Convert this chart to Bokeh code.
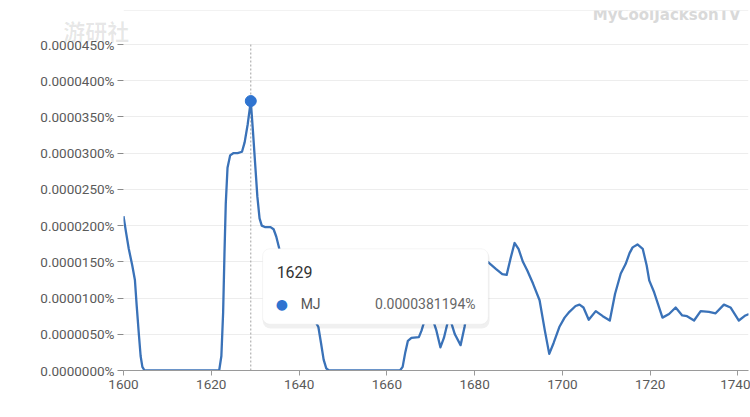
from bokeh.plotting import figure
from bokeh.models import Range1d, FixedTicker, BoxAnnotation, Label, Span
from bokeh.embed import file_html
from bokeh.resources import INLINE

# ---- data: values in units of 0.0000001 % ----
years = [1600, 1600.6, 1601.2, 1602, 1602.6, 1603, 1603.5, 1603.9, 1604.3, 1604.8,
         1621.8, 1622.3, 1622.7, 1623.0, 1623.3, 1623.7, 1624.3, 1625, 1626, 1627, 1627.6,
         1628.3, 1629, 1629.5, 1630, 1630.5, 1631, 1631.5, 1632.2, 1633.5, 1634.2, 1634.8,
         1635.5, 1636.5, 1638, 1640, 1642, 1643.5, 1644.4, 1645, 1645.6, 1646.2, 1646.8,
         1663, 1663.6, 1664.2, 1664.8, 1665.6, 1667.3, 1667.9, 1668.6, 1669.5, 1670.5,
         1671.3, 1672.2, 1673, 1674.2, 1675.5, 1676.8, 1677.7, 1678.5, 1680, 1681.5, 1683,
         1684.9, 1686.3, 1687.3, 1688.2, 1689.1, 1690, 1691, 1692, 1693.3, 1694.8, 1696,
         1697, 1698, 1699.3, 1700.5, 1701.6, 1703, 1703.9, 1704.8, 1706, 1707.6, 1709.2,
         1710.8, 1712, 1713.3, 1714.4, 1715.3, 1716, 1717.1, 1718.3, 1719.2, 1719.8, 1720.9,
         1722.8, 1724.3, 1725.8, 1727.3, 1728.4, 1730, 1731.5, 1733.4, 1734.9, 1736.8,
         1738.3, 1740.2, 1741.7, 1742.5]
mj_e7 = [21.3, 19.0, 16.8, 14.5, 12.5, 9.0, 5.0, 2.0, 0.5, 0.0,
         0.0, 2.0, 8.0, 16.0, 23.0, 28.0, 29.7, 30.0, 30.0, 30.2, 31.5,
         34.0, 37.2, 33.0, 28.5, 24.0, 21.0, 20.0, 19.8, 19.8, 19.5, 18.5,
         16.8, 15.0, 13.0, 10.5, 8.5, 7.0, 6.0, 3.8, 1.5, 0.3, 0.0,
         0.0, 0.5, 2.5, 4.1, 4.5, 4.6, 5.5, 6.9, 8.5, 7.0,
         5.5, 3.2, 4.5, 7.5, 5.0, 3.5, 6.0, 9.0, 12.5, 14.5, 15.0,
         14.0, 13.3, 13.2, 15.5, 17.6, 16.8, 15.0, 13.8, 12.0, 9.7, 5.5,
         2.3, 3.8, 6.0, 7.3, 8.1, 8.9, 9.1, 8.7, 7.0, 8.2, 7.5,
         6.9, 10.6, 13.4, 14.7, 16.2, 17.0, 17.4, 16.8, 14.5, 12.4, 10.8,
         7.3, 7.8, 8.7, 7.6, 7.5, 6.9, 8.2, 8.1, 7.9, 9.1,
         8.7, 6.9, 7.6, 7.8]
y_ticks = [0, 5, 10, 15, 20, 25, 30, 35, 40, 45]
y_tick_labels = ["0.0000000%", "0.0000050%", "0.0000100%", "0.0000150%", "0.0000200%",
                 "0.0000250%", "0.0000300%", "0.0000350%", "0.0000400%", "0.0000450%"]
x_ticks = [1600, 1620, 1640, 1660, 1680, 1700, 1720, 1740]
hover_year = 1629
hover_val = 37.2
hover_text = "0.0000381194%"
series_name = "MJ"
logo_text = "游研社"
channel_text = "MyCoolJacksonTV"

LINE_BLUE = "#3a72b8"
FONT = "Roboto"
Y_TOP = 49.7

p = figure(width=750, height=417, output_backend="svg", toolbar_location=None,
           x_range=Range1d(1600, 1742.4), y_range=Range1d(0, Y_TOP),
           min_border_left=123, min_border_right=2, min_border_top=10, min_border_bottom=47)
p.outline_line_color = None
p.background_fill_color = "white"
p.border_fill_color = "white"

# axes
p.yaxis.ticker = FixedTicker(ticks=y_ticks)
p.yaxis.major_label_overrides = dict(zip(y_ticks, y_tick_labels))
p.yaxis.axis_line_color = None
p.yaxis.major_tick_line_color = "#8a8a8a"
p.yaxis.major_tick_out = 6
p.yaxis.major_tick_in = 0
p.yaxis.minor_tick_line_color = None
p.yaxis.major_label_standoff = 3
p.yaxis.major_label_text_font = FONT
p.yaxis.major_label_text_font_size = "13.5px"
p.yaxis.major_label_text_color = "#5a5a5a"
# faint logo watermark, carried by the y axis label so it may sit left of the frame
# (leading empty line pushes the visible line down below the frame top)
p.yaxis.axis_label = "\n" + logo_text
p.yaxis.axis_label_orientation = "horizontal"
p.yaxis.axis_label_align = "end"
p.yaxis.axis_label_standoff = -92
p.yaxis.axis_label_text_font = "Noto Sans CJK SC"
p.yaxis.axis_label_text_font_size = "22px"
p.yaxis.axis_label_text_font_style = "bold"
p.yaxis.axis_label_text_color = "#000000"
p.yaxis.axis_label_text_alpha = 0.09

p.xaxis.ticker = FixedTicker(ticks=x_ticks)
p.xaxis.axis_line_color = "#9a9a9a"
p.xaxis.axis_line_width = 1.2
p.xaxis.major_tick_line_color = "#9a9a9a"
p.xaxis.major_tick_out = 5
p.xaxis.major_tick_in = 0
p.xaxis.minor_tick_line_color = None
p.xaxis.major_label_standoff = 4
p.xaxis.major_label_text_font = FONT
p.xaxis.major_label_text_font_size = "13.5px"
p.xaxis.major_label_text_color = "#5a5a5a"

p.xgrid.grid_line_color = None
p.ygrid.grid_line_color = "#ededed"
p.add_layout(Span(location=Y_TOP, dimension="width", line_color="#e6e6e6", line_width=1))

p.add_layout(Label(x=1742.4, y=Y_TOP, x_offset=-8, y_offset=-4, text=channel_text,
                   text_align="right", text_baseline="middle", text_font="DejaVu Sans",
                   text_font_size="15px", text_font_style="bold", text_color="#d9d9d9",
                   level="underlay"))

# hover guide line
p.segment(x0=[hover_year], y0=[0], x1=[hover_year], y1=[y_ticks[-1]],
          line_color="#a0a0a0", line_width=1, line_dash="2 2")

# series
p.line(years, mj_e7, line_color=LINE_BLUE, line_width=2.3, line_join="round")
p.scatter([hover_year], [hover_val], size=11, fill_color="#2f74d0", line_color="#2f74d0")

# tooltip
tip_left = hover_year + 2.7
tip_right = hover_year + 54.4
tip_top = 16.6
tip_bottom = 6.1
p.add_layout(BoxAnnotation(left=tip_left, right=tip_right, top=tip_top, bottom=tip_bottom - 0.3,
                           fill_color="#000000", fill_alpha=0.06, line_color=None,
                           border_radius=8, level="annotation"))
p.add_layout(BoxAnnotation(left=tip_left, right=tip_right - 0.3, top=tip_top + 0.2,
                           bottom=tip_bottom + 0.3,
                           fill_color="white", fill_alpha=1.0, line_color="#e2e2e2",
                           line_width=1, border_radius=7, level="annotation"))
p.add_layout(Label(x=tip_left, y=tip_top, x_offset=14, y_offset=-28, text=str(hover_year),
                   text_font=FONT, text_font_size="16px", text_color="#333333"))
p.add_layout(Label(x=tip_left, y=tip_top, x_offset=13, y_offset=-54, text="●",
                   text_baseline="middle", text_font="DejaVu Sans", text_font_size="14px",
                   text_color="#2f74d0"))
p.add_layout(Label(x=tip_left, y=tip_top, x_offset=38, y_offset=-54, text=series_name,
                   text_baseline="middle", text_font=FONT, text_font_size="14px",
                   text_color="#555555"))
p.add_layout(Label(x=tip_right, y=tip_top, x_offset=-14, y_offset=-54, text=hover_text,
                   text_align="right", text_baseline="middle", text_font=FONT,
                   text_font_size="14px", text_color="#666666"))

open("out.html", "w").write(file_html(p, INLINE))
